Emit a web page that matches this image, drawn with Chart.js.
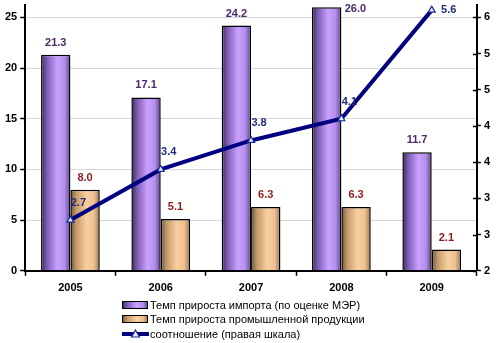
<!DOCTYPE html>
<html>
<head>
<meta charset="utf-8">
<script src="https://cdn.jsdelivr.net/npm/chart.js@4"></script>
<style>
  body { margin: 0; background: #fff; }
  #wrap { width: 500px; height: 343px; position: relative; }
</style>
</head>
<body>
<div id="wrap"><canvas id="chart"></canvas></div>
<script>
"use strict";

const years = ["2005", "2006", "2007", "2008", "2009"];
const importGrowth = [21.3, 17.1, 24.2, 26.0, 11.7];
const industryGrowth = [8.0, 5.1, 6.3, 6.3, 2.1];
const ratio = [2.7, 3.4, 3.8, 4.1, 5.6];
const leftTicks = [0, 5, 10, 15, 20, 25];
const rightTicks = [2, 2.5, 3, 3.5, 4, 4.5, 5, 5.5];
const seriesNames = [
    "Темп прироста импорта (по оценке МЭР)",
    "Темп прироста промышленной продукции",
    "соотношение (правая шкала)"
];

const FONT = "'Liberation Sans', Arial, sans-serif";
const GROUP = 0.65;

const purpleStops = [[0, "#3b2a55"], [0.2, "#7e5cb4"], [0.55, "#c9a2ff"], [0.8, "#b48ef0"], [1, "#5b4283"]];
const orangeStops = [[0, "#6e5236"], [0.2, "#c49a6c"], [0.55, "#f8cf9f"], [0.8, "#eec092"], [1, "#9c7650"]];

function makeGradient(ctx, x0, x1, stops) {
    const g = ctx.createLinearGradient(x0, 0, x1, 0);
    stops.forEach(s => g.addColorStop(s[0], s[1]));
    return g;
}

// horizontal shading for each bar, worked out from the x scale
function barFill(stops, side, fallback) {
    return function (c) {
        const xs = c.chart.scales.x;
        if (c.type !== "data" || !xs) return fallback;
        const center = xs.getPixelForValue(c.dataIndex);
        const w = xs.width / years.length * GROUP / 2;
        if (!Number.isFinite(center) || !Number.isFinite(w) || w <= 0) return fallback;
        const x0 = side === 0 ? center - w : center;
        return makeGradient(c.chart.ctx, x0, x0 + w, stops);
    };
}

const noTopPad = scale => { scale.paddingTop = 0; };

const labelsPlugin = {
    id: "labels",
    afterDatasetsDraw(chart) {
        const ctx = chart.ctx;
        const area = chart.chartArea;
        ctx.save();
        ctx.font = "bold 11px " + FONT;
        ctx.textAlign = "center";
        ctx.textBaseline = "middle";
        const colors = ["#4b2a6b", "#8b1c1c"];
        [0, 1].forEach(di => {
            const meta = chart.getDatasetMeta(di);
            meta.data.forEach((bar, i) => {
                const txt = chart.data.datasets[di].data[i].toFixed(1);
                ctx.fillStyle = colors[di];
                let x = bar.x, y = bar.y - 12;
                if (y < area.top) { x = bar.x + bar.width / 2 + 14; y = area.top + 4; }
                ctx.fillText(txt, x, y);
            });
        });
        const lm = chart.getDatasetMeta(2);
        ctx.fillStyle = "#1f2d7a";
        lm.data.forEach((p, i) => {
            const txt = ratio[i].toFixed(1);
            if (i === ratio.length - 1) ctx.fillText(txt, p.x + 17, p.y);
            else ctx.fillText(txt, p.x + 8, p.y - 17);
        });

        // right axis ticks cross the axis line
        const y1 = chart.scales.y1;
        ctx.strokeStyle = "#000";
        ctx.lineWidth = 1.5;
        y1.ticks.forEach(t => {
            const py = Math.round(y1.getPixelForValue(t.value)) + 0.5;
            ctx.beginPath();
            ctx.moveTo(area.right - 4, py);
            ctx.lineTo(area.right, py);
            ctx.stroke();
        });

        // legend, three rows
        const lx = 122;
        const rows = [305, 319, 334];
        ctx.font = "11px " + FONT;
        ctx.textAlign = "left";
        rows.forEach((ry, i) => {
            if (i < 2) {
                ctx.fillStyle = makeGradient(ctx, lx, lx + 26, i === 0 ? purpleStops : orangeStops);
                ctx.fillRect(lx, ry - 4, 26, 8);
                ctx.strokeStyle = "#000";
                ctx.lineWidth = 1;
                ctx.strokeRect(lx + 0.5, ry - 3.5, 25, 7);
            } else {
                ctx.strokeStyle = "#000080";
                ctx.lineWidth = 4;
                ctx.beginPath();
                ctx.moveTo(lx, ry);
                ctx.lineTo(lx + 27, ry);
                ctx.stroke();
                ctx.fillStyle = "#e8ecff";
                ctx.strokeStyle = "#1a2a9a";
                ctx.lineWidth = 1.2;
                ctx.beginPath();
                ctx.moveTo(lx + 13.5, ry - 4);
                ctx.lineTo(lx + 17.5, ry + 3);
                ctx.lineTo(lx + 9.5, ry + 3);
                ctx.closePath();
                ctx.fill();
                ctx.stroke();
            }
            ctx.fillStyle = "#000";
            ctx.fillText(seriesNames[i], lx + 28, ry + 1);
        });
        ctx.restore();
    }
};

const ctx = document.getElementById("chart").getContext("2d");
new Chart(ctx, {
    type: "bar",
    data: {
        labels: years,
        datasets: [
            {
                label: seriesNames[0],
                data: importGrowth,
                yAxisID: "y",
                order: 1,
                backgroundColor: barFill(purpleStops, 0, "#b48ef0"),
                borderColor: "#000",
                borderWidth: 1.5,
                categoryPercentage: GROUP,
                barPercentage: 1
            },
            {
                label: seriesNames[1],
                data: industryGrowth,
                yAxisID: "y",
                order: 1,
                backgroundColor: barFill(orangeStops, 1, "#eec092"),
                borderColor: "#000",
                borderWidth: 1.5,
                categoryPercentage: GROUP,
                barPercentage: 1
            },
            {
                type: "line",
                label: seriesNames[2],
                data: ratio,
                yAxisID: "y1",
                order: 0,
                borderColor: "#000080",
                borderWidth: 4,
                pointStyle: "triangle",
                pointRadius: 4,
                pointBackgroundColor: "#e8ecff",
                pointBorderColor: "#1a2a9a",
                pointBorderWidth: 1.2,
                tension: 0
            }
        ]
    },
    options: {
        responsive: true,
        maintainAspectRatio: false,
        animation: false,
        devicePixelRatio: 1,
        layout: { padding: { left: 2, right: 7, top: 4, bottom: 42 } },
        plugins: {
            legend: { display: false },
            tooltip: { enabled: false }
        },
        scales: {
            x: {
                offset: true,
                grid: { offset: true, drawOnChartArea: false, tickLength: 5, tickColor: "#000", tickWidth: 1.5 },
                border: { color: "#000", width: 2 },
                ticks: { color: "#000", font: { family: FONT, size: 11, weight: "bold" }, padding: 6 }
            },
            y: {
                position: "left",
                min: 0,
                max: 26.2,
                afterBuildTicks: axis => { axis.ticks = leftTicks.map(v => ({ value: v })); },
                afterFit: noTopPad,
                grid: { color: "#d6d6d6", lineWidth: 1, tickLength: 5, tickColor: "#000", tickWidth: 1.5 },
                border: { color: "#000", width: 2 },
                ticks: { stepSize: 5, color: "#000", padding: 3, font: { family: FONT, size: 11, weight: "bold" } }
            },
            y1: {
                position: "right",
                min: 2,
                max: 2 + 3.5 * 26.2 / 25,
                afterBuildTicks: axis => { axis.ticks = rightTicks.map(v => ({ value: v })); },
                afterFit: noTopPad,
                grid: { drawOnChartArea: false, tickLength: 4, tickColor: "#000", tickWidth: 1.5 },
                border: { color: "#000", width: 2 },
                ticks: {
                    stepSize: 0.5,
                    color: "#000",
                    padding: 3,
                    font: { family: FONT, size: 11, weight: "bold" },
                    callback: v => String(Math.round(v))
                }
            }
        }
    },
    plugins: [labelsPlugin]
});
</script>
</body>
</html>
